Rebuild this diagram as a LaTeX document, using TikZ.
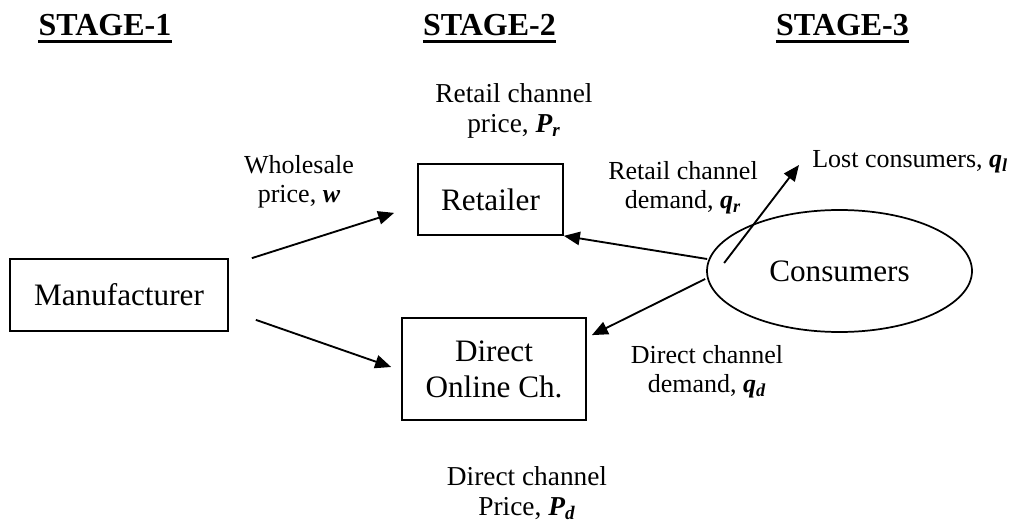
\documentclass[tikz,border=0pt]{standalone}
\usepackage{fontspec}
\setmainfont{Liberation Serif}
\usetikzlibrary{shapes.geometric,arrows.meta,calc}
\newcommand{\bvar}[2]{\textbf{\textit{#1}}\textsubscript{\textbf{\textit{#2}}}}
\begin{document}
\begin{tikzpicture}[x=0.75pt,y=-0.75pt,
 box/.style={draw,line width=1.3pt,inner sep=0pt,font=\fontsize{23.4}{27}\selectfont,align=center},
 lab/.style={font=\fontsize{19.5}{22}\selectfont,align=center,inner sep=0pt},
 toplab/.style={font=\fontsize{20.5}{22.5}\selectfont,align=center,inner sep=0pt},
 head/.style={font=\fontsize{24}{28}\selectfont\bfseries,inner sep=0pt,anchor=base},
 arr/.style={line width=1.4pt,-{Triangle[length=12pt,width=10pt]}},
 uline/.style={line width=2.25pt}]
\path[use as bounding box] (0,0) rectangle (1016,524);

% headings
\node[head] (h1) at (105,36) {STAGE-1};
\node[head] (h2) at (489.5,36) {STAGE-2};
\node[head] (h3) at (842.5,36) {STAGE-3};
\foreach \h in {h1,h2,h3}
  \draw[uline] ($(\h.base west)+(0,5.5)$) -- ($(\h.base east)+(0,5.5)$);

% boxes
\node[box,minimum width=163.5pt,minimum height=54pt] (man) at (119,295) {Manufacturer};
\node[box,minimum width=108.75pt,minimum height=53.25pt] (ret) at (490.5,199.5) {Retailer};
\node[box,minimum width=138pt,minimum height=76.5pt] (dir) at (494,369) {Direct\\Online Ch.};
\node[box,ellipse,minimum width=198.75pt,minimum height=91.5pt] (con) at (839.5,271) {Consumers};

% labels
\node[lab] (wl) at (299,182) {Wholesale\\price, \textbf{\textit{w}}};
\node[toplab] (rp) at (514,110.5) {Retail channel\\price, \bvar{P}{r}};
\node[lab] (rd) at (683,187.5) {Retail channel\\demand, \bvar{q}{r}};
\node[lab] (dd) at (707,371.5) {Direct channel\\demand, \bvar{q}{d}};
\node[toplab] (dp) at (527,493.5) {Direct channel\\Price, \bvar{P}{d}};
\node[lab,anchor=base west] (lost) at (812,167) {Lost consumers, \bvar{q}{l}};

% connectors
\draw[arr] ($(man.north east)+(23,0)$) -- ($(ret.south west)+(-23,-23)$);
\draw[arr] ($(man.south east)+(27,-12)$) -- ($(dir.west)+(-10,-2)$);
\draw[arr] ($(con.west)+(1,-12)$) -- (ret.south east);
\draw[arr] ($(con.west)+(-1,8)$) -- ($(dir.north east)+(5,18)$);
\draw[arr] ($(con.west)+(18,-8)$) -- ($(lost.base west)+(-13,-2)$);
\end{tikzpicture}
\end{document}
